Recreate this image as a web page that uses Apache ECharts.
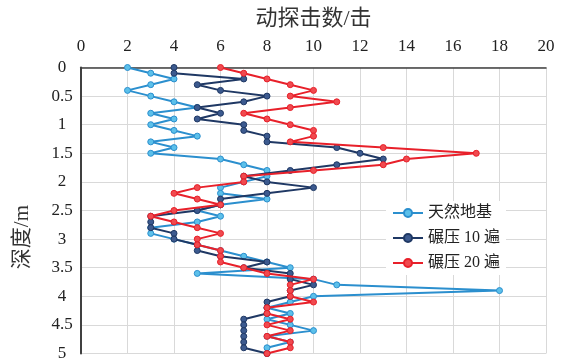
<!DOCTYPE html>
<html>
<head>
<meta charset="utf-8">
<script src="https://cdn.jsdelivr.net/npm/echarts@6/dist/echarts.min.js"></script>
<style>
  html, body { margin: 0; padding: 0; background: #fff; }
  #chart { width: 569px; height: 362px; }
</style>
</head>
<body>
<div id="chart"></div>
<script>
// Depth of each measurement (m)
const depths = [
  0.0, 0.1, 0.2, 0.3, 0.4, 0.5, 0.6, 0.7, 0.8, 0.9,
  1.0, 1.1, 1.2, 1.3, 1.4, 1.5, 1.6, 1.7, 1.8, 1.9,
  2.0, 2.1, 2.2, 2.3, 2.4, 2.5, 2.6, 2.7, 2.8, 2.9,
  3.0, 3.1, 3.2, 3.3, 3.4, 3.5, 3.6, 3.7, 3.8, 3.9,
  4.0, 4.1, 4.2, 4.3, 4.4, 4.5, 4.6, 4.7, 4.8, 4.9, 5.0
];

// Blow counts for natural ground
const natural = [
  2, 3, 4, 3, 2, 3, 4, 5, 3, 4,
  3, 4, 5, 3, 4, 3, 6, 7, 8, 8,
  7, 6, 6, 8, 6, 5, 6, 5, 3, 3,
  4, 5, 6, 7, 8, 9, 5, 10, 11, 18,
  10, 9, 8, 9, 8, 9, 10, 8, 9, 8, 8
];

// Blow counts after 10 roller passes
const rolled10 = [
  4, 4, 7, 5, 6, 8, 7, 5, 6, 5,
  7, 7, 8, 8, 11, 12, 13, 11, 9, 7,
  8, 10, 8, 6, 6, 5, 3, 3, 3, 4,
  4, 5, 5, 6, 8, 7, 9, 9, 10, 9,
  9, 8, 8, 8, 7, 7, 7, 7, 7, 7, 8
];

// Blow counts after 20 roller passes
const rolled20 = [
  6, 7, 8, 9, 10, 9, 11, 9, 7, 8,
  9, 10, 10, 9, 13, 17, 14, 13, 10, 7,
  7, 5, 4, 5, 6, 4, 3, 4, 5, 6,
  5, 5, 6, 6, 6, 7, 8, 10, 9, 9,
  9, 10, 8, 8, 9, 8, 9, 8, 9, 9, 8
];

const seriesNames = ['天然地基', '碾压 10 遍', '碾压 20 遍'];
const lineColors = ['#2b8fce', '#1f3864', '#e8202a'];
const markerColors = ['#5cc0ea', '#3c5a8f', '#f04a4f'];

const serif = '"Liberation Serif", "Times New Roman", "Noto Sans CJK SC", serif';

function pairs(values) {
  return values.map((v, i) => [v, depths[i]]);
}

const chart = echarts.init(document.getElementById('chart'), null, { renderer: 'canvas' });

const option = {
  backgroundColor: '#ffffff',
  animation: false,
  grid: { left: 81, top: 67.5, width: 465, height: 289, containLabel: false },
  legend: {
    orient: 'vertical',
    left: 386,
    top: 201,
    itemGap: 9,
    itemWidth: 30,
    itemHeight: 10,
    backgroundColor: '#ffffff',
    padding: [4, 6, 4, 6],
    textStyle: { fontFamily: serif, fontSize: 16, color: '#222' },
    data: seriesNames
  },
  xAxis: {
    type: 'value',
    position: 'top',
    min: 0,
    max: 20,
    interval: 2,
    name: '动探击数/击',
    nameLocation: 'middle',
    nameGap: 37,
    nameTextStyle: { fontFamily: serif, fontSize: 22, color: '#333' },
    axisLine: { show: true, lineStyle: { color: '#404040', width: 1.5 } },
    axisTick: { show: false },
    axisLabel: { fontFamily: serif, fontSize: 17, color: '#222', margin: 12 },
    splitLine: { show: true, lineStyle: { color: '#d9d9d9', width: 1 } }
  },
  yAxis: {
    type: 'value',
    inverse: true,
    min: 0,
    max: 5,
    interval: 0.5,
    axisLine: { show: true, onZero: false, lineStyle: { color: '#404040', width: 2 } },
    axisTick: { show: false },
    axisLabel: { fontFamily: serif, fontSize: 17, color: '#222', align: 'center', margin: 19 },
    splitLine: { show: true, lineStyle: { color: '#d9d9d9', width: 1 } }
  },
  graphic: [{
    type: 'text',
    left: 12,
    top: 205,
    rotation: Math.PI / 2,
    style: {
      text: '深度/m',
      font: '21px ' + serif,
      fill: '#333'
    }
  }],
  series: [natural, rolled10, rolled20].map((vals, k) => ({
    name: seriesNames[k],
    type: 'line',
    data: pairs(vals),
    symbol: 'circle',
    symbolSize: 6,
    showSymbol: true,
    lineStyle: { color: lineColors[k], width: 2 },
    itemStyle: { color: markerColors[k], borderColor: lineColors[k], borderWidth: 1 },
    z: 2 + k
  }))
};

chart.setOption(option);
</script>
</body>
</html>
